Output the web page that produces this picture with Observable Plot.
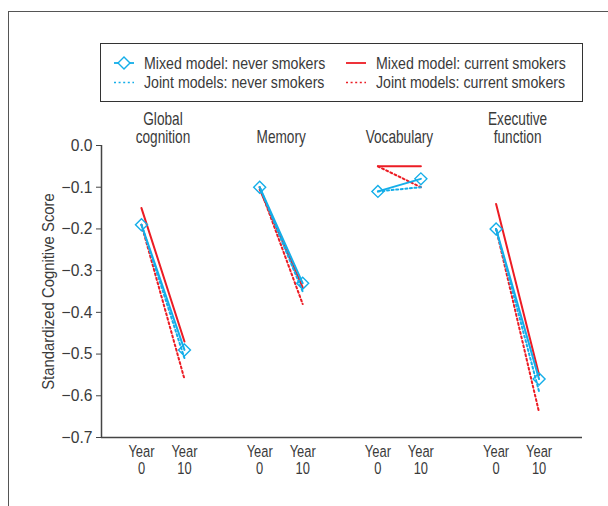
<!DOCTYPE html>
<html><head><meta charset="utf-8">
<script src="https://cdn.jsdelivr.net/npm/d3@7"></script>
<script src="https://cdn.jsdelivr.net/npm/@observablehq/plot@0.6"></script>
<style>
body{margin:0;background:#fff;}
#wrap{position:relative;width:608px;height:506px;overflow:hidden;font-family:"Liberation Sans",Arial,sans-serif;color:#3a3a3a;}
#frame{position:absolute;left:8px;top:11px;width:620px;height:520px;border-top:1.5px solid #555;border-left:1.5px solid #555;}
#legend{position:absolute;left:100px;top:43px;width:483px;height:59px;border:1.5px solid #333;box-sizing:border-box;}
#chart{position:absolute;left:0;top:105px;}
</style></head><body>
<div id="wrap"><div id="frame"></div><div id="legend"></div><div id="chart"></div></div>
<script>
// ---- data ----
const groups = ["Global\ncognition", "Memory", "Vocabulary", "Executive\nfunction"];
const years = [0, 10];
const yearLabels = ["Year\n0", "Year\n10"];
const yTicks = [0, -0.1, -0.2, -0.3, -0.4, -0.5, -0.6, -0.7];
const yLabel = "Standardized Cognitive Score";
// [Year 0, Year 10] per group
const mixedNever   = [[-0.19, -0.49], [-0.10, -0.33], [-0.11, -0.08], [-0.20, -0.56]];
const mixedCurrent = [[-0.15, -0.47], [-0.105, -0.34], [-0.05, -0.05], [-0.14, -0.55]];
const jointNever   = [[-0.19, -0.51], [-0.10, -0.35], [-0.11, -0.10], [-0.20, -0.59]];
const jointCurrent = [[-0.19, -0.56], [-0.10, -0.38], [-0.05, -0.10], [-0.20, -0.64]];
const seriesNames = ["Mixed model: never smokers", "Joint models: never smokers", "Mixed model: current smokers", "Joint models: current smokers"];

// ---- styles ----
const blue = "#14aee9", red = "#ec1c24", ink = "#3a3a3a";
const font = '"Liberation Sans",Arial,sans-serif';
const gap = 2.75;
const series = [
  {name: seriesNames[3], values: jointCurrent, color: red, dash: "2,2.6", marker: false},
  {name: seriesNames[2], values: mixedCurrent, color: red, dash: null, marker: false},
  {name: seriesNames[1], values: jointNever, color: blue, dash: "2,2.6", marker: false},
  {name: seriesNames[0], values: mixedNever, color: blue, dash: null, marker: true}
];
const toRows = (vals, name) => vals.flatMap((v, g) => v.map((y, t) => ({name, g, t, x: g * gap + t, y})));

const xTickVals = groups.flatMap((_, g) => years.map((_, t) => g * gap + t));
const xTickLab = new Map(groups.flatMap((_, g) => yearLabels.map((l, t) => [g * gap + t, l])));

const xmin = -0.93, xmax = 10.26;
const marks = [
  Plot.ruleY([-0.7], {stroke: "#444", strokeWidth: 1.5}),
  Plot.ruleX([xmin], {stroke: "#444", strokeWidth: 1.5}),
  Plot.axisY({ticks: yTicks, tickFormat: d3.format(".1f"), tickSize: 5, tickPadding: 4, label: null, stroke: "#444", fill: ink, fontSize: 16.5}),
  Plot.axisX({ticks: xTickVals, tickFormat: d => xTickLab.get(d), tickSize: 0, tickPadding: 7, label: null, fill: ink, fontSize: 17}),
  Plot.text([yLabel], {frameAnchor: "left", textAnchor: "middle", rotate: -90, dx: -53, text: d => d, fill: ink, fontSize: 16}),
  Plot.text(groups, {x: (d, i) => i * gap + 0.5, y: 0, text: d => d, lineAnchor: "bottom", dy: -3, fill: ink, fontSize: 17.5})
];
for (const s of series) {
  marks.push(Plot.line(toRows(s.values, s.name), {x: "x", y: "y", z: "g", stroke: s.color, strokeWidth: 2, strokeDasharray: s.dash}));
  if (s.marker) marks.push(Plot.dot(toRows(s.values, s.name), {x: "x", y: "y", symbol: "diamond2", r: 5.4, stroke: s.color, strokeWidth: 1.4, fill: "none"}));
}

const chart = Plot.plot({
  width: 608, height: 401,
  marginTop: 40, marginBottom: 69, marginLeft: 101, marginRight: 26,
  x: {domain: [xmin, xmax]},
  y: {domain: [-0.7, 0]},
  style: {fontFamily: font, fontSize: "16px", color: ink, background: "transparent"},
  marks
});
document.getElementById("chart").append(chart);

// condense text horizontally (the reference uses a condensed face)
function squeezeEl(t, k) {
  let tr = t.getAttribute("transform");
  if (!tr) {
    const x = +t.getAttribute("x") || 0, y = +t.getAttribute("y") || 0;
    t.removeAttribute("x"); t.removeAttribute("y");
    tr = `translate(${x},${y})`;
  }
  t.setAttribute("transform", tr + ` scale(${k},1)`);
}
chart.querySelectorAll('g[aria-label="y-axis tick label"] text').forEach(t => squeezeEl(t, 0.95));
chart.querySelectorAll('g[aria-label="x-axis tick label"] text').forEach(t => squeezeEl(t, 0.76));
const textGroups = chart.querySelectorAll('g[aria-label="text"]');
textGroups[0].querySelectorAll("text").forEach(t => squeezeEl(t, 0.93));
textGroups[1].querySelectorAll("text").forEach(t => squeezeEl(t, 0.78));

// ---- legend ----
const legendItems = [
  {name: seriesNames[0], color: blue, dash: null, marker: true, col: 0, row: 0},
  {name: seriesNames[1], color: blue, dash: "2,2.6", marker: false, col: 0, row: 1},
  {name: seriesNames[2], color: red, dash: null, marker: false, col: 1, row: 0},
  {name: seriesNames[3], color: red, dash: "2,2.6", marker: false, col: 1, row: 1}
];
const lsvg = d3.select("#legend").append("svg").attr("width", 480).attr("height", 56)
  .style("position", "absolute").style("left", 0).style("top", 0)
  .style("font-family", font).style("font-size", "16.5px");
const colX = [13, 245], rowY = [19, 38.5];
for (const it of legendItems) {
  const g = lsvg.append("g").attr("transform", `translate(${colX[it.col]},${rowY[it.row]})`);
  g.append("line").attr("x1", 0).attr("x2", 20).attr("stroke", it.color).attr("stroke-width", it.dash ? 1.6 : 1.8).attr("stroke-dasharray", it.dash);
  if (it.marker) g.append("path").attr("d", d3.symbol(d3.symbolDiamond2, 5.4 * 5.4 * Math.PI)()).attr("transform", "translate(10,0)").attr("fill", "white").attr("stroke", it.color).attr("stroke-width", 1.4);
  g.append("text").attr("transform", "translate(30,0) scale(0.86,1)").attr("dy", "0.35em").attr("fill", ink).text(it.name);
}
</script>
</body></html>
